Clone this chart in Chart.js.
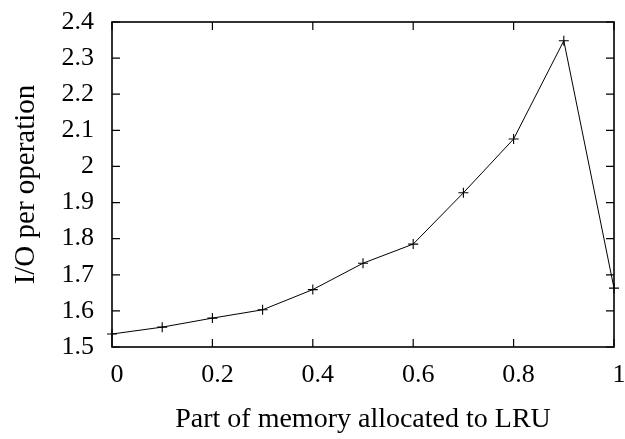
<!DOCTYPE html>
<html>
<head>
<meta charset="utf-8">
<script src="https://cdn.jsdelivr.net/npm/chart.js@4.4.0/dist/chart.umd.min.js"></script>
<style>
  html, body { margin: 0; padding: 0; background: #fff; }
  #wrap { width: 625px; height: 439px; }
</style>
</head>
<body>
<div id="wrap"><canvas id="c" width="625" height="439"></canvas></div>
<script>
const xValues = [0, 0.1, 0.2, 0.3, 0.4, 0.5, 0.6, 0.7, 0.8, 0.9, 1.0];
const ioPerOp = [1.536, 1.555, 1.580, 1.603, 1.659, 1.732, 1.785, 1.927, 2.076, 2.348, 1.663];
const xTicks = [0, 0.2, 0.4, 0.6, 0.8, 1];
const yTicks = [1.5, 1.6, 1.7, 1.8, 1.9, 2.0, 2.1, 2.2, 2.3, 2.4];
const xTitle = 'Part of memory allocated to LRU';
const yTitle = 'I/O per operation';

const FONT = 'Liberation Serif';

const framePlugin = {
  id: 'frame',
  afterDraw(chart) {
    const { ctx, chartArea: a, scales } = chart;
    ctx.save();
    ctx.strokeStyle = '#000';
    ctx.lineWidth = 1.6;
    ctx.strokeRect(a.left, a.top, a.right - a.left, a.bottom - a.top);
    ctx.lineWidth = 1.2;
    const L = 8;
    ctx.beginPath();
    xTicks.forEach(v => {
      const px = scales.x.getPixelForValue(v);
      ctx.moveTo(px, a.bottom); ctx.lineTo(px, a.bottom - L);
      ctx.moveTo(px, a.top); ctx.lineTo(px, a.top + L);
    });
    yTicks.forEach(v => {
      const py = scales.y.getPixelForValue(v);
      ctx.moveTo(a.left, py); ctx.lineTo(a.left + L, py);
      ctx.moveTo(a.right, py); ctx.lineTo(a.right - L, py);
    });
    ctx.stroke();
    ctx.restore();
  }
};

const fmt = v => String(parseFloat(Number(v).toFixed(1)));
const noPad = s => { s.paddingTop = 0; s.paddingBottom = 0; s.paddingLeft = 0; s.paddingRight = 0; };

new Chart(document.getElementById('c'), {
  type: 'line',
  data: {
    datasets: [{
      data: xValues.map((x, i) => ({ x, y: ioPerOp[i] })),
      borderColor: '#000',
      borderWidth: 1,
      backgroundColor: '#000',
      pointStyle: 'cross',
      pointRadius: 5,
      pointBorderWidth: 1.1,
      pointBorderColor: '#000',
      tension: 0,
      fill: false,
      clip: false
    }]
  },
  options: {
    responsive: false,
    animation: false,
    devicePixelRatio: 1,
    layout: { padding: { top: 22, right: 11, left: 0, bottom: 0 } },
    plugins: { legend: { display: false }, tooltip: { enabled: false } },
    scales: {
      x: {
        type: 'linear',
        min: 0, max: 1,
        afterBuildTicks: s => { s.ticks = xTicks.map(v => ({ value: v })); },
        afterFit: s => { s.height = 92; noPad(s); },
        grid: { display: false, drawTicks: false },
        border: { display: false },
        ticks: {
          padding: 13,
          labelOffset: 5,
          maxRotation: 0,
          color: '#000',
          font: { family: FONT, size: 26 },
          callback: v => fmt(v)
        },
        title: {
          display: true,
          text: xTitle,
          color: '#000',
          font: { family: FONT, size: 28 },
          padding: { top: 0, bottom: 3 }
        }
      },
      y: {
        type: 'linear',
        min: 1.5, max: 2.4,
        afterBuildTicks: s => { s.ticks = yTicks.map(v => ({ value: v })); },
        afterFit: s => { s.width = 112; noPad(s); },
        grid: { display: false, drawTicks: false },
        border: { display: false },
        ticks: {
          padding: 18,
          color: '#000',
          font: { family: FONT, size: 26 },
          callback: v => fmt(v)
        },
        title: {
          display: true,
          text: yTitle,
          color: '#000',
          font: { family: FONT, size: 29 },
          padding: { top: 9, bottom: 0 }
        }
      }
    }
  },
  plugins: [framePlugin]
});
</script>
</body>
</html>
